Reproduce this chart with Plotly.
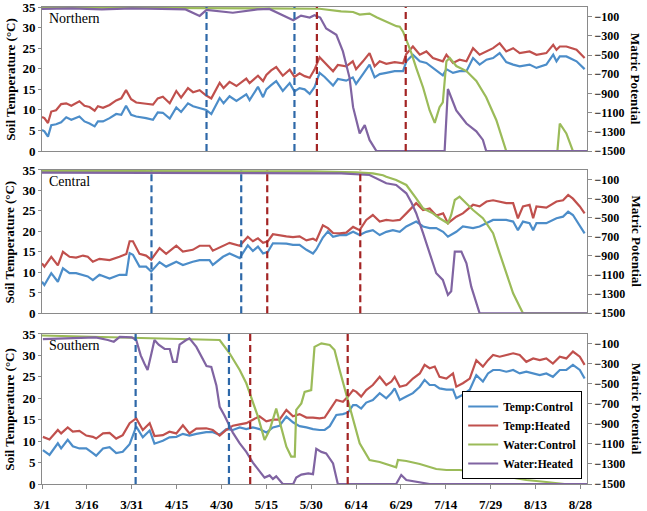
import plotly.graph_objects as go

# ---------------- data (days after 3/1) ----------------
TICK_DAYS = [0, 15, 30, 45, 60, 75, 90, 105, 120, 135, 150, 165, 180]
TICK_LABELS = ["3/1", "3/16", "3/31", "4/15", "4/30", "5/15", "5/30", "6/14",
               "6/29", "7/14", "7/29", "8/13", "8/28"]
PANEL_NAMES = ["Northern", "Central", "Southern"]
SERIES_NAMES = ["Temp:Control", "Temp:Heated", "Water:Control", "Water:Heated"]

# Northern
N_T_D = [0,0.8,2,3.1,4.7,6.4,8.1,9.8,12.5,14.2,15.9,17.6,18.7,20.4,22.6,24.8,26.5,28.1,29.8,31.5,
         34.8,37.1,38.7,40.4,42.7,44.9,46.5,48.8,50.5,52.7,54.9,56.6,59.4,60.7,62.7,65,68.3,69.4,72.2,73.9,
         75,76.6,78.3,80.5,82.8,84.4,86.1,87.8,89.5,91.1,92.8,94.5,97.3,98.9,101.7,103.9,105,107.3,109.5,111.2,
         112.9,115.1,117.9,120.7,121.8,124,126.3,128.5,130.7,134,135.2,137.4,139.6,141.9,144.1,146.3,148.6,150.8,153,155.2,
         157.5,159.7,163,165.3,168.6,170.9,172,173.1,175.3,178.7,181.4]
N_TH = [8.3,8.0,6.8,9.6,9.9,11.4,11.6,11.0,12.1,11.0,10.7,9.8,10.9,10.5,11.2,12.3,12.8,14.8,12.6,11.8,
        11.5,11.3,12.8,13.2,11.6,14.6,13.0,15.3,14.3,14.8,13.5,12.8,16.6,15.3,16.8,15.8,17.6,16.5,18.3,17.0,
        18.5,19.6,20.4,18.3,19.8,18.0,18.9,18.2,17.8,19.8,22.8,21.5,19.4,20.9,20.6,21.8,19.9,21.8,23.8,20.6,
        21.8,21.2,21.6,21.3,23.6,25.4,23.4,24.2,22.6,21.8,23.4,21.4,22.2,21.8,25.0,23.4,24.2,25.0,26.2,24.2,
        25.0,23.8,24.2,23.4,23.8,25.8,24.6,25.4,25.4,24.6,22.6]
N_TC = [5.1,4.8,3.5,6.3,6.5,7.0,8.2,7.6,8.4,7.2,6.7,6.0,7.2,7.2,8.0,9.0,8.8,11.0,8.8,8.4,
        8.0,7.6,9.4,9.3,7.9,10.6,9.5,11.6,10.9,10.4,10.0,9.0,12.9,11.6,13.3,12.2,13.8,12.4,15.6,13.1,
        15.0,16.0,17.0,14.6,16.5,14.5,15.3,15.0,13.9,15.5,19.0,18.0,15.9,17.5,17.1,17.9,16.3,18.7,21.0,17.9,
        18.7,19.0,19.4,19.4,21.8,23.4,21.8,21.4,20.2,18.4,19.9,19.0,19.4,19.4,22.6,21.0,22.2,22.6,23.8,21.6,
        21.0,20.6,21.0,20.2,21.0,23.4,21.8,23.0,23.0,21.8,19.9]
N_WC_D = [0,60,92.8,100,104,106.2,109.5,112,115.1,118.5,119.6,120.7,121.8,123.5,125.1,127.4,129.6,131.3,132.9,134,
          135.2,136.3,138.5,141.9,145.2,148.5,151.9,155.2,172.3,173.1,175.3,177.5,182.5]
N_WC = [-5,-10,-18,-45,-52,-79,-69,-110,-154,-200,-205,-257,-342,-480,-633,-838,-1077,-1207,-1043,-992,
        -564,-530,-615,-667,-770,-940,-1179,-1500,-1500,-1213,-1316,-1500,-1500]
N_WH_D = [0,10,20,30,40,48,52.7,55,63.8,72,76,79.4,84,86.6,89.5,91.1,93,95,98.4,100.6,
          102.8,104,106.2,107.9,109.5,111.8,134.6,135.7,138.5,141.9,145.2,147.4,148.5,182.5]
N_WH = [-20,-15,-25,-15,-20,-25,-93,-30,-60,-25,-20,-70,-137,-90,-110,-86,-110,-223,-290,-462,
        -735,-1043,-1316,-1230,-1384,-1500,-1500,-854,-1077,-1213,-1295,-1384,-1500,-1500]

# Central
C_T_D = [0,0.8,3.1,5.3,7,9.2,11.4,13.7,15.3,17,19.2,22.6,25.9,28.2,29.3,30.4,32.6,34.8,36.5,39.3,
         41.5,44.9,47.1,50.4,52.7,56,57.1,60.5,62.7,66.1,68.8,70.5,72.2,73.9,75.5,77.2,79.4,81.7,83.9,86.1,
         88.4,90.6,91.7,93.9,95.6,97.3,99.5,101.7,104,106.2,108.4,110.6,112.9,115.1,117.3,119.6,121.8,125.1,127.4,129.6,
         131.8,134.1,135.7,138.5,140.7,144.1,146.3,148.6,150.8,153,155.2,157.5,159.1,160.8,163,164.2,165.3,168.6,172,174.2,
         175.9,177.5,179.8,181.4]
C_TH = [12.2,11.4,13.8,11.7,15.0,13.8,13.6,14.1,13.8,12.6,13.3,13.0,13.8,14.5,17.6,17.6,14.5,14.1,13.1,15.9,
        14.5,16.5,15.1,15.5,16.5,16.5,15.3,16.5,17.2,16.5,18.7,17.6,18.3,17.2,17.6,19.3,19.0,18.8,18.6,18.8,
        17.8,18.2,17.8,21.5,20.8,19.6,19.5,19.7,21.1,20.3,22.8,24.0,22.4,22.8,22.6,22.8,24.4,26.9,25.2,25.6,
        23.9,24.4,22.0,23.6,24.4,26.5,26.1,27.3,27.6,27.3,26.9,26.9,23.2,26.1,26.5,23.2,26.1,25.8,27.3,27.6,
        28.9,28.0,26.1,24.4]
C_TC = [7.7,6.9,9.8,7.7,11.0,9.8,9.8,9.4,9.0,8.1,9.4,8.5,9.4,9.4,14.7,14.3,11.4,11.4,10.2,12.5,
        11.4,12.6,11.8,12.6,13.0,13.0,11.8,13.8,14.6,13.5,16.6,15.2,16.3,14.6,15.0,17.1,17.1,17.0,16.7,16.7,
        15.5,14.6,15.6,18.5,20.0,18.7,19.1,19.1,19.9,19.1,19.9,20.3,19.1,19.9,20.3,19.9,21.2,22.4,21.2,20.8,
        20.8,19.9,18.7,19.9,21.2,20.8,21.2,22.0,22.8,22.8,22.8,22.4,20.3,22.4,22.0,20.3,22.0,22.0,23.2,23.6,
        24.8,24.0,21.2,19.5]
C_WC_D = [0,90,105,110.6,114,115.1,118.4,121.8,125.1,127.4,130.7,132.9,135.7,136.8,138,139.6,141.9,144.1,147.4,150.8,
          153,155.2,157.5,159.7,160.8,182.5]
C_WC = [-10,-15,-25,-35,-55,-70,-104,-157,-296,-401,-454,-505,-558,-470,-314,-279,-350,-419,-505,-662,
        -872,-1081,-1291,-1431,-1500,-1500]
C_WH_D = [0,90,100,109.5,115.1,118.4,121.8,123.5,125.1,127.4,129.6,131.8,134,135.7,136.8,138,140.2,141.9,143.5,145.2,
          146.3,182.5]
C_WH = [-28,-28,-35,-52,-139,-157,-244,-340,-453,-662,-872,-1081,-1151,-1308,-1270,-855,-855,-977,-1221,-1400,
        -1500,-1500]

# Southern
S_T_D = [0.3,2.5,5.3,6.4,8.6,10.3,12.5,14.8,17,18.1,20.4,22.6,24.8,27,29.3,31.5,33.7,36,37.6,40.4,
         42.6,44.9,47.1,49.3,51.6,54.9,57.1,59.4,61.6,63.8,66.1,68.3,70.5,72.7,75,77.2,79.4,81.7,83.9,86.1,
         88.4,90.6,92.8,94.5,96.2,98.4,100.6,102.3,104,105.1,106.7,108.4,110.6,112.9,115.1,116.8,117.9,119.6,121.8,124,
         126.3,127.9,129.6,131.3,132.9,135.2,137.4,138.5,140.7,143,145.2,147.4,149.1,150.8,153,155.2,157.5,159.7,161.9,164.2,
         166.4,168.6,170.8,173.1,175.3,177.5,179.8,181.4]
S_TH = [11.0,10.4,12.6,11.8,13.2,12.2,12.4,11.3,11.0,10.6,11.8,11.9,10.6,11.4,14.2,15.3,12.6,14.2,11.2,11.4,
        12.2,11.8,13.7,11.8,12.9,13.0,12.6,11.3,12.6,13.6,13.9,14.2,15.0,15.8,14.6,15.0,15.0,17.3,15.8,16.3,
        15.5,15.5,15.3,15.5,17.3,19.6,19.2,20.4,21.9,21.5,20.4,21.9,23.1,25.0,23.1,23.9,25.0,22.7,23.1,24.6,
        25.8,27.8,27.0,27.4,25.0,24.6,25.8,22.7,23.5,24.6,28.9,27.4,28.9,30.1,29.7,30.1,30.5,30.1,28.5,29.3,
        28.9,29.3,28.1,29.7,29.3,30.9,29.7,27.8]
S_TC = [7.9,6.8,9.5,8.3,10.3,8.8,8.3,8.3,7.2,6.6,8.3,8.6,7.2,7.5,9.3,13.4,10.9,12.5,9.4,10.1,
        10.9,11.0,11.7,11.3,11.7,12.1,12.1,11.5,12.8,12.6,13.2,12.8,13.2,12.8,12.0,13.2,13.6,15.7,14.4,13.5,
        13.2,12.8,12.6,12.6,13.5,16.1,16.3,16.7,18.4,18.4,17.6,19.0,19.6,21.2,20.0,21.2,22.3,19.6,20.4,21.2,
        22.7,24.3,23.1,23.1,22.3,22.0,22.0,20.0,20.8,22.0,25.4,23.9,25.8,26.6,26.6,26.2,26.6,25.8,26.2,25.8,
        25.4,25.8,25.0,26.6,26.6,27.8,26.6,24.6]
S_WC_D = [0,59.4,62.7,66.1,68.3,70.5,72.2,74.4,76.1,78.3,80,81.7,83.3,84.5,85,86.7,87.8,90,91.1,93.4,
          96.2,97.8,99.5,101.7,104,106.2,109.5,112.9,118.4,119,121.8,126.3,131.8,135.2,139.6,145.2,150.8,155.2,161.9,168.6,
          174.7,182.5]
S_WC = [-15,-60,-193,-360,-493,-694,-827,-1059,-960,-746,-930,-1127,-1226,-1226,-759,-694,-579,-561,-129,-94,
        -110,-160,-360,-593,-860,-1093,-1260,-1280,-1333,-1260,-1270,-1300,-1350,-1360,-1360,-1375,-1393,-1427,-1460,-1480,
        -1500,-1500]
S_WH_D = [0.3,10,18,22,24,26,30,31.5,33,34.3,35.3,36.6,37.6,39,41,42.7,43.8,45,46,48.2,
          49.3,51.6,53.8,55,56.6,58.3,59.4,61,63.8,66.1,68.3,70.5,72.7,74.4,76.1,77.2,78.3,79.4,80.5,84,
          85,86.7,89,90.6,91.7,93.4,95,97.3,98.9,118.4,120.1,121.8,125.1,128.5,129.6,182.5]
S_WH = [-51,-43,-34,-60,-77,-30,-34,-60,-214,-300,-360,-193,-60,-107,-150,-150,-279,-279,-107,-60,
        -43,-129,-257,-321,-330,-514,-729,-814,-986,-1093,-1179,-1286,-1371,-1436,-1414,-1449,-1423,-1466,-1500,-1500,
        -1436,-1406,-1393,-1401,-1149,-1179,-1195,-1294,-1500,-1500,-1410,-1460,-1480,-1495,-1500,-1500]

# dates of vertical markers (days after 3/1)
CONTROL_MARKS = [[55, 84.4], [36.6, 66.6], [31.3, 62.5]]
HEATED_MARKS = [[91.9, 121.6], [75.3, 106.4], [69.6, 102.2]]

RIGHT_TICKS = [-1500, -1300, -1100, -900, -700, -500, -300, -100]

# ---------------- figure ----------------
COLORS = ["#4C8DC9", "#C0504D", "#9BBB59", "#8064A2"]
DASH_BLUE = "#2E68A8"
DASH_RED = "#A32424"
SERIF = "Liberation Serif"

panels = [
    (N_T_D, N_TC, N_T_D, N_TH, N_WC_D, N_WC, N_WH_D, N_WH),
    (C_T_D, C_TC, C_T_D, C_TH, C_WC_D, C_WC, C_WH_D, C_WH),
    (S_T_D, S_TC, S_T_D, S_TH, S_WC_D, S_WC, S_WH_D, S_WH),
]
domains = [[0.698, 1.0], [0.3579, 0.6583], [0.0, 0.3145]]

fig = go.Figure()
tickfont = dict(family=SERIF, size=13, color="black", weight="bold")
axcol = "#8a8a8a"

for i, p in enumerate(panels):
    xs = "x" if i == 0 else f"x{i+1}"
    yl = "y" if i == 0 else f"y{2*i+1}"
    yr = f"y{2*i+2}"
    showleg = (i == 2)
    for k in range(4):
        xd, yd = p[2*k], p[2*k+1]
        fig.add_trace(go.Scatter(
            x=xd, y=yd, mode="lines", name=SERIES_NAMES[k],
            line=dict(color=COLORS[k], width=2.2),
            xaxis=xs, yaxis=(yl if k < 2 else yr),
            showlegend=showleg, hoverinfo="skip"))

    xkey = "xaxis" if i == 0 else f"xaxis{i+1}"
    ylkey = "yaxis" if i == 0 else f"yaxis{2*i+1}"
    yrkey = f"yaxis{2*i+2}"
    fig.layout[xkey] = dict(
        domain=[0, 1], range=[0, 182.2], anchor=yl, automargin=False,
        showline=True, linecolor=axcol, linewidth=1, mirror=True,
        showgrid=False, zeroline=False,
        tickvals=TICK_DAYS, ticktext=TICK_LABELS, ticklabeloverflow="allow",
        ticks="outside" if i == 2 else "", ticklen=4, tickcolor=axcol,
        showticklabels=(i == 2), tickfont=tickfont, ticklabelstandoff=4,
        matches=None if i == 0 else "x")
    fig.layout[ylkey] = dict(
        domain=domains[i], range=[0, 35], anchor=xs, automargin=False,
        tickvals=[0, 5, 10, 15, 20, 25, 30, 35], ticklabeloverflow="allow",
        showline=True, linecolor=axcol, linewidth=1, mirror=True,
        showgrid=False, zeroline=False,
        ticks="outside", ticklen=3, tickcolor=axcol, tickfont=tickfont)
    fig.layout[yrkey] = dict(
        range=[-1500, 0], overlaying=yl, side="right", anchor=xs, automargin=False,
        tickvals=RIGHT_TICKS, ticklabeloverflow="allow",
        showline=True, linecolor=axcol, linewidth=1,
        showgrid=False, zeroline=False,
        ticks="outside", ticklen=4, tickcolor=axcol,
        tickfont=dict(family=SERIF, size=12, color="black", weight="bold"))

    for d in CONTROL_MARKS[i]:
        fig.add_shape(type="line", xref=xs, yref=f"{yl} domain", x0=d, x1=d, y0=0, y1=1,
                      line=dict(color=DASH_BLUE, width=2.2, dash="7px,4px"))
    for d in HEATED_MARKS[i]:
        fig.add_shape(type="line", xref=xs, yref=f"{yl} domain", x0=d, x1=d, y0=0, y1=1,
                      line=dict(color=DASH_RED, width=2.2, dash="7px,4px"))

    mid = (domains[i][0] + domains[i][1]) / 2
    fig.add_annotation(text="Soil Temperature (°C)", xref="paper", yref="paper",
                       x=-0.059, y=mid, textangle=-90, showarrow=False,
                       xanchor="center", yanchor="middle",
                       font=dict(family=SERIF, size=13, color="black", weight="bold"))
    fig.add_annotation(text="Matric Potential", xref="paper", yref="paper",
                       x=1.09, y=mid, textangle=90, showarrow=False,
                       xanchor="center", yanchor="middle",
                       font=dict(family=SERIF, size=13, color="black", weight="bold"))
    fig.add_annotation(text=PANEL_NAMES[i], xref="paper", yref="paper",
                       x=0.009, y=domains[i][1] - 0.025, xanchor="left", yanchor="middle",
                       showarrow=False,
                       font=dict(family=SERIF, size=14, color="black"))

fig.update_layout(
    width=647, height=511,
    margin=dict(l=42, r=60, t=7, b=27, autoexpand=False),
    paper_bgcolor="white", plot_bgcolor="white",
    legend=dict(x=0.771, y=0.195, xanchor="left", yanchor="top",
                bordercolor="black", borderwidth=1, bgcolor="white",
                font=dict(family=SERIF, size=11.5, color="black", weight="bold"),
                itemwidth=30, tracegroupgap=0),
    showlegend=True,
)

fig.write_html("out.html", config={"displayModeBar": False},
               post_script="document.body.style.margin='0px';")
